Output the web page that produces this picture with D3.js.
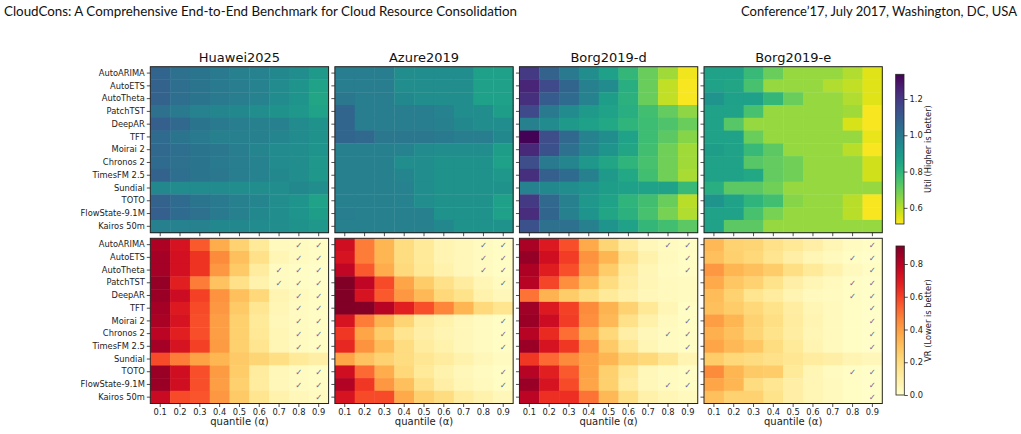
<!DOCTYPE html>
<html><head><meta charset="utf-8">
<script src="https://cdn.jsdelivr.net/npm/d3@7"></script>
<style>body{margin:0;background:#fff;}svg{display:block;}</style>
</head><body>
<svg id="c" width="1021" height="434"></svg>
<script>
const models = ["AutoARIMA","AutoETS","AutoTheta","PatchTST","DeepAR","TFT","Moirai 2","Chronos 2","TimesFM 2.5","Sundial","TOTO","FlowState-9.1M","Kairos 50m"];
const quantiles = ["0.1","0.2","0.3","0.4","0.5","0.6","0.7","0.8","0.9"];
const datasets = ["Huawei2025","Azure2019","Borg2019-d","Borg2019-e"];
const utilTicks = [0.6,0.8,1.0,1.2];
const vrTicks = [0.0,0.2,0.4,0.6,0.8];

const utilHuawei = [
[1.07,1.03,1.02,1.00,0.98,0.97,0.95,0.93,0.89],
[1.08,1.04,1.02,1.00,0.99,0.97,0.94,0.91,0.86],
[1.08,1.04,1.02,1.00,0.99,0.97,0.94,0.91,0.85],
[1.03,1.00,0.97,0.96,0.95,0.93,0.92,0.90,0.86],
[1.09,1.06,1.02,1.00,0.99,0.98,0.98,0.94,0.92],
[1.05,1.02,1.00,0.98,0.98,0.98,0.96,0.94,0.92],
[1.06,1.04,1.02,1.01,0.99,0.96,0.94,0.93,0.91],
[1.05,1.03,1.02,1.00,0.99,0.97,0.94,0.93,0.90],
[1.08,1.04,1.02,1.01,0.99,0.97,0.95,0.93,0.90],
[0.95,0.94,0.94,0.94,0.93,0.93,0.93,0.95,0.93],
[1.08,1.05,1.02,1.00,0.98,0.96,0.93,0.91,0.86],
[1.09,1.05,1.03,1.00,0.98,0.95,0.93,0.91,0.88],
[0.98,0.97,0.97,0.95,0.95,0.94,0.93,0.92,0.90]];
const utilAzure = [
[0.99,0.99,0.99,0.93,0.93,0.93,0.93,0.87,0.87],
[0.99,0.99,0.99,0.93,0.93,0.93,0.93,0.87,0.87],
[1.01,0.99,0.99,0.95,0.93,0.93,0.93,0.87,0.87],
[1.07,0.99,0.99,0.99,0.99,0.97,0.93,0.93,0.88],
[1.07,0.99,0.99,0.99,0.99,0.98,0.95,0.93,0.93],
[1.07,1.06,1.01,1.01,1.01,1.00,0.99,0.99,0.95],
[0.98,0.98,0.98,0.97,0.94,0.93,0.93,0.93,0.88],
[0.98,0.98,0.98,0.93,0.93,0.92,0.92,0.92,0.87],
[0.98,0.98,0.98,0.96,0.93,0.92,0.92,0.92,0.90],
[0.98,0.98,0.98,0.97,0.93,0.92,0.92,0.92,0.92],
[0.98,0.98,0.98,0.97,0.93,0.92,0.92,0.92,0.87],
[0.99,0.98,0.98,0.98,0.98,0.92,0.92,0.92,0.87],
[0.98,0.98,0.98,0.98,0.98,0.95,0.92,0.92,0.92]];
const utilBorgD = [
[1.20,1.08,1.00,0.93,0.87,0.79,0.70,0.63,0.53],
[1.25,1.15,1.07,0.98,0.94,0.82,0.70,0.59,0.52],
[1.22,1.10,1.05,0.97,0.88,0.81,0.70,0.59,0.52],
[1.15,1.00,0.94,0.89,0.86,0.82,0.76,0.71,0.65],
[0.98,0.94,0.89,0.87,0.84,0.80,0.77,0.74,0.70],
[1.33,1.14,1.06,0.97,0.93,0.86,0.77,0.72,0.66],
[1.24,1.13,1.03,0.96,0.91,0.85,0.76,0.69,0.63],
[1.14,1.00,0.96,0.90,0.85,0.80,0.75,0.69,0.63],
[1.22,1.09,1.05,0.98,0.89,0.84,0.76,0.69,0.62],
[0.97,0.95,0.93,0.91,0.88,0.87,0.86,0.86,0.78],
[1.20,1.06,0.98,0.90,0.86,0.80,0.76,0.70,0.60],
[1.23,1.07,0.98,0.91,0.85,0.81,0.75,0.68,0.61],
[1.13,1.03,1.03,0.98,0.91,0.86,0.79,0.76,0.72]];
const utilBorgE = [
[0.86,0.86,0.78,0.70,0.64,0.64,0.64,0.61,0.55],
[0.86,0.85,0.75,0.64,0.64,0.64,0.61,0.59,0.55],
[0.91,0.87,0.87,0.79,0.70,0.64,0.64,0.61,0.55],
[0.86,0.86,0.75,0.64,0.64,0.64,0.64,0.63,0.52],
[0.86,0.73,0.64,0.64,0.64,0.64,0.64,0.56,0.52],
[0.86,0.86,0.70,0.64,0.64,0.64,0.64,0.64,0.54],
[0.88,0.86,0.78,0.72,0.64,0.64,0.64,0.60,0.52],
[0.86,0.86,0.73,0.71,0.69,0.64,0.64,0.64,0.57],
[0.86,0.86,0.84,0.71,0.69,0.64,0.64,0.64,0.57],
[0.82,0.72,0.72,0.69,0.64,0.64,0.64,0.64,0.64],
[0.91,0.86,0.80,0.76,0.66,0.64,0.64,0.60,0.52],
[0.86,0.86,0.75,0.68,0.64,0.64,0.64,0.60,0.52],
[0.86,0.72,0.72,0.64,0.64,0.64,0.64,0.64,0.64]];

const vrHuawei = [
[0.82,0.72,0.55,0.36,0.24,0.13,0.04,0.03,0.02],
[0.84,0.73,0.63,0.45,0.30,0.18,0.06,0.03,0.02],
[0.84,0.73,0.63,0.42,0.27,0.12,0.03,0.02,0.01],
[0.87,0.68,0.48,0.29,0.18,0.08,0.03,0.02,0.01],
[0.86,0.75,0.60,0.43,0.30,0.22,0.07,0.04,0.02],
[0.84,0.70,0.58,0.42,0.27,0.15,0.06,0.03,0.02],
[0.83,0.72,0.57,0.40,0.25,0.13,0.05,0.03,0.02],
[0.79,0.68,0.57,0.40,0.25,0.14,0.06,0.03,0.02],
[0.84,0.72,0.60,0.41,0.25,0.16,0.06,0.03,0.02],
[0.58,0.48,0.39,0.33,0.27,0.23,0.19,0.13,0.10],
[0.86,0.74,0.57,0.41,0.26,0.12,0.05,0.03,0.02],
[0.86,0.74,0.57,0.40,0.25,0.12,0.05,0.03,0.02],
[0.76,0.58,0.56,0.42,0.27,0.16,0.08,0.05,0.03]];
const vrAzure = [
[0.74,0.48,0.33,0.20,0.13,0.07,0.05,0.03,0.02],
[0.72,0.48,0.33,0.20,0.13,0.07,0.05,0.03,0.02],
[0.78,0.55,0.36,0.21,0.14,0.08,0.05,0.03,0.02],
[0.91,0.78,0.58,0.38,0.26,0.18,0.12,0.06,0.03],
[0.91,0.72,0.55,0.42,0.32,0.22,0.17,0.08,0.05],
[0.91,0.90,0.80,0.68,0.57,0.46,0.33,0.21,0.16],
[0.72,0.48,0.34,0.23,0.12,0.08,0.05,0.03,0.02],
[0.62,0.38,0.26,0.16,0.10,0.07,0.05,0.03,0.02],
[0.66,0.43,0.31,0.20,0.12,0.08,0.05,0.03,0.02],
[0.38,0.29,0.24,0.20,0.15,0.12,0.08,0.05,0.03],
[0.74,0.52,0.36,0.22,0.13,0.08,0.05,0.03,0.02],
[0.81,0.62,0.42,0.30,0.18,0.10,0.06,0.04,0.02],
[0.72,0.58,0.58,0.37,0.25,0.20,0.12,0.08,0.05]];
const vrBorgD = [
[0.83,0.70,0.57,0.37,0.23,0.12,0.05,0.03,0.02],
[0.87,0.74,0.61,0.43,0.33,0.18,0.08,0.04,0.02],
[0.82,0.69,0.57,0.40,0.26,0.13,0.06,0.03,0.02],
[0.80,0.59,0.44,0.31,0.20,0.11,0.06,0.04,0.03],
[0.50,0.34,0.26,0.20,0.13,0.09,0.05,0.04,0.03],
[0.85,0.70,0.60,0.45,0.34,0.24,0.14,0.06,0.02],
[0.86,0.75,0.61,0.44,0.32,0.18,0.09,0.04,0.02],
[0.80,0.65,0.51,0.35,0.22,0.10,0.05,0.03,0.02],
[0.86,0.72,0.62,0.44,0.27,0.15,0.06,0.03,0.02],
[0.62,0.52,0.45,0.39,0.33,0.25,0.22,0.15,0.07],
[0.80,0.68,0.55,0.39,0.25,0.14,0.05,0.03,0.02],
[0.86,0.72,0.58,0.38,0.25,0.12,0.05,0.03,0.02],
[0.79,0.64,0.64,0.50,0.32,0.19,0.09,0.06,0.04]];
const vrBorgE = [
[0.32,0.24,0.23,0.18,0.14,0.10,0.06,0.03,0.02],
[0.30,0.25,0.22,0.16,0.10,0.06,0.04,0.02,0.01],
[0.42,0.33,0.30,0.26,0.19,0.13,0.08,0.04,0.02],
[0.37,0.28,0.24,0.17,0.10,0.06,0.04,0.02,0.01],
[0.31,0.24,0.16,0.12,0.07,0.04,0.03,0.02,0.01],
[0.30,0.26,0.22,0.17,0.11,0.06,0.04,0.02,0.01],
[0.40,0.33,0.24,0.19,0.12,0.07,0.04,0.02,0.01],
[0.35,0.30,0.23,0.17,0.11,0.06,0.04,0.02,0.01],
[0.38,0.32,0.28,0.20,0.13,0.07,0.04,0.02,0.01],
[0.26,0.22,0.20,0.18,0.15,0.12,0.10,0.07,0.05],
[0.45,0.33,0.27,0.26,0.13,0.06,0.03,0.02,0.01],
[0.38,0.33,0.20,0.15,0.10,0.06,0.04,0.02,0.01],
[0.30,0.24,0.24,0.17,0.10,0.06,0.04,0.02,0.01]];

// check marks: for each model row, the quantiles that are marked
const checksHuawei = [["0.8","0.9"],["0.8","0.9"],["0.7","0.8","0.9"],["0.7","0.8","0.9"],["0.8","0.9"],["0.8","0.9"],["0.8","0.9"],["0.8","0.9"],["0.8","0.9"],[],["0.8","0.9"],["0.8","0.9"],["0.9"]];
const checksAzure = [["0.8","0.9"],["0.8","0.9"],["0.8","0.9"],["0.9"],[],[],["0.9"],["0.9"],["0.9"],[],["0.9"],["0.9"],[]];
const checksBorgD = [["0.8","0.9"],["0.9"],["0.9"],[],[],["0.9"],["0.9"],["0.8","0.9"],["0.9"],[],["0.9"],["0.8","0.9"],[]];
const checksBorgE = [["0.9"],["0.8","0.9"],["0.9"],["0.8","0.9"],["0.8","0.9"],["0.9"],["0.9"],["0.9"],["0.9"],[],["0.8","0.9"],["0.9"],["0.9"]];

const utilAll = [utilHuawei, utilAzure, utilBorgD, utilBorgE];
const vrAll = [vrHuawei, vrAzure, vrBorgD, vrBorgE];
const checksAll = [checksHuawei, checksAzure, checksBorgD, checksBorgE];

const svg = d3.select("#c");
const FONT = "DejaVu Sans, sans-serif";

// header
svg.append("text").attr("x",4).attr("y",16).attr("font-family","Lato, sans-serif").attr("font-size",13)
  .attr("textLength",513).attr("lengthAdjust","spacingAndGlyphs").attr("fill","#111")
  .text("CloudCons: A Comprehensive End-to-End Benchmark for Cloud Resource Consolidation");
svg.append("text").attr("x",1017).attr("y",16).attr("text-anchor","end").attr("font-family","Lato, sans-serif").attr("font-size",13)
  .attr("textLength",276).attr("lengthAdjust","spacingAndGlyphs").attr("fill","#111")
  .text("Conference’17, July 2017, Washington, DC, USA");

const utilMin = 0.511, utilMax = 1.336;
const vrMin = 0, vrMax = 0.91;
const utilColor = d3.scaleSequential(t => d3.interpolateViridis(1 - t)).domain([utilMin, utilMax]);
const vrColor = d3.scaleSequential(d3.interpolateYlOrRd).domain([vrMin, vrMax]);

const panelX = d3.scaleBand().domain(datasets).range([150.3, 882.3]).paddingInner(0.034);
const rowsY = [[66.7, 232.7],[238.3, 403.5]];

function drawPanel(ds, di, rowIdx, data, color, checks) {
  const x = d3.scaleBand().domain(quantiles).range([panelX(ds), panelX(ds)+panelX.bandwidth()]);
  const y = d3.scaleBand().domain(models).range(rowsY[rowIdx]);
  const g = svg.append("g");
  models.forEach((m, i) => {
    quantiles.forEach((q, j) => {
      g.append("rect").attr("x", x(q)).attr("y", y(m)).attr("width", x.bandwidth()+0.4).attr("height", y.bandwidth()+0.4)
        .attr("fill", color(data[i][j]));
    });
  });
  if (checks) {
    models.forEach((m, i) => {
      checks[i].forEach(q => {
        g.append("text").attr("x", x(q)+x.bandwidth()/2).attr("y", y(m)+y.bandwidth()/2+3.2)
          .attr("text-anchor","middle").attr("font-family",FONT).attr("font-size",8.5)
          .attr("fill","#6b6b9b").text("✓");
      });
    });
  }
  g.append("rect").attr("x", x.range()[0]).attr("y", y.range()[0]).attr("width", x.range()[1]-x.range()[0])
    .attr("height", y.range()[1]-y.range()[0]).attr("fill","none").attr("stroke","#222").attr("stroke-width",1);
  const ya = d3.axisLeft(y).tickSize(3.5).tickPadding(2).tickFormat(di===0 ? (d=>d) : (()=> ""));
  const yg = g.append("g").attr("transform",`translate(${x.range()[0]},0)`).call(ya);
  yg.select(".domain").remove();
  yg.selectAll("text").attr("font-family",FONT).attr("font-size",8.3).attr("fill","#222");
  yg.selectAll("line").attr("stroke","#222").attr("stroke-width",0.8);
  const xa = d3.axisBottom(x).tickSize(3.5).tickPadding(2).tickFormat(rowIdx===1 ? (d=>d) : (()=> ""));
  const xg = g.append("g").attr("transform",`translate(0,${y.range()[1]})`).call(xa);
  xg.select(".domain").remove();
  xg.selectAll("text").attr("font-family",FONT).attr("font-size",8.3).attr("fill","#222");
  xg.selectAll("line").attr("stroke","#222").attr("stroke-width",0.8);
  if (rowIdx === 0) {
    svg.append("text").attr("x", (x.range()[0]+x.range()[1])/2).attr("y", 62).attr("text-anchor","middle")
      .attr("font-family",FONT).attr("font-size",13).attr("fill","#111").text(ds);
  } else {
    svg.append("text").attr("x", (x.range()[0]+x.range()[1])/2).attr("y", 425).attr("text-anchor","middle")
      .attr("font-family",FONT).attr("font-size",10).attr("fill","#222").text("quantile (α)");
  }
}

datasets.forEach((ds, di) => {
  drawPanel(ds, di, 0, utilAll[di], utilColor, null);
  drawPanel(ds, di, 1, vrAll[di], vrColor, checksAll[di]);
});

// colorbars
function colorbar(id, x0, y0, y1, color, dom, ticks, label, fmt) {
  const defs = svg.append("defs");
  const grad = defs.append("linearGradient").attr("id", id).attr("x1",0).attr("y1",1).attr("x2",0).attr("y2",0);
  d3.range(0, 1.0001, 0.05).forEach(t => {
    grad.append("stop").attr("offset", t).attr("stop-color", color(dom[0] + t*(dom[1]-dom[0])));
  });
  const w = 8.3;
  svg.append("rect").attr("x", x0).attr("y", y0).attr("width", w).attr("height", y1-y0).attr("fill", `url(#${id})`)
    .attr("stroke","#222").attr("stroke-width",0.8);
  const s = d3.scaleLinear().domain(dom).range([y1, y0]);
  const ax = d3.axisRight(s).tickValues(ticks).tickSize(3.5).tickPadding(2).tickFormat(fmt);
  const g = svg.append("g").attr("transform",`translate(${x0+w},0)`).call(ax);
  g.select(".domain").remove();
  g.selectAll("text").attr("font-family",FONT).attr("font-size",8.3).attr("fill","#222");
  g.selectAll("line").attr("stroke","#222").attr("stroke-width",0.8);
  svg.append("text").attr("transform",`translate(931,${(y0+y1)/2}) rotate(-90)`).attr("text-anchor","middle")
    .attr("font-family",FONT).attr("font-size",8.3).attr("fill","#222").text(label);
}
colorbar("gUtil", 895.7, 74.3, 224, utilColor, [utilMin, utilMax], utilTicks, "Util (Higher is better)", d3.format(".1f"));
colorbar("gVr", 896, 246, 395, vrColor, [vrMin, vrMax], vrTicks, "VR (Lower is better)", d3.format(".1f"));
</script>
</body></html>
